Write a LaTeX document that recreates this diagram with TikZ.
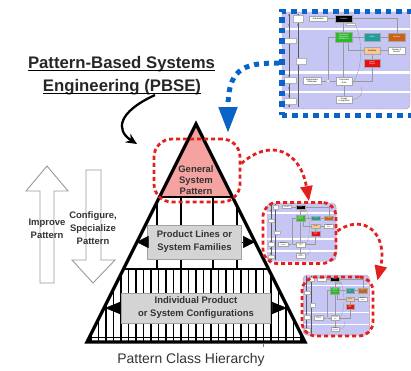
\documentclass[tikz,border=0pt]{standalone}
\usepackage{fontspec}
\setmainfont{Liberation Sans}
\usetikzlibrary{arrows.meta}
\definecolor{lav}{HTML}{C6C6F4}
\definecolor{pbred}{HTML}{E3201E}
\definecolor{pbblue}{HTML}{0A64C8}
\definecolor{apexpink}{HTML}{F4A3A0}
\definecolor{boxfill}{HTML}{D4D4D4}
\definecolor{boxedge}{HTML}{A0A0A0}
\definecolor{txtgray}{HTML}{333333}
\definecolor{mgreen}{HTML}{2DB82D}
\definecolor{mteal}{HTML}{1E9E9E}
\definecolor{morange}{HTML}{C86414}
\definecolor{mpeach}{HTML}{F8C890}
\definecolor{mred}{HTML}{E81010}
\tikzset{
  mbox/.style={draw=gray!70, line width=0.3bp, inner sep=0pt, anchor=north west,
    font=\fontsize{2.1}{2.3}\selectfont, align=center},
  cline/.style={draw=gray!80, line width=0.35bp},
  mline/.style={draw=black!65, line width=0.4bp},
  mini/.pic={
    \fill[lav, rounded corners=4bp] (0,0) rectangle (128,97);
    \fill[white] (0,15.5) rectangle (128,17.5);
    \fill[white] (0,59) rectangle (128,61.5);
    \fill[white] (0,78.5) rectangle (128,81);
    \draw[pbred!70, line width=0.4bp, dash pattern=on 1bp off 0.7bp, rounded corners=4bp] (0,0) rectangle (128,97);
    \draw[mline] (7,2) -- (7,95);
    \draw[mline] (16,2) -- (16,95);
    \draw[mline, <->, >={Stealth[length=1.5bp,width=1.5bp]}] (7,2) -- (7,14);
    \draw[mline, <->, >={Stealth[length=1.5bp,width=1.5bp]}] (7,63) -- (7,77);
    \draw[mline, <->, >={Stealth[length=1.5bp,width=1.5bp]}] (7,83) -- (7,95);
    \draw[mline, <->, >={Stealth[length=1.5bp,width=1.5bp]}] (16,2) -- (16,14);
    \draw[cline] (45,6.5) -- (53,6.5);
    \draw[cline] (70,6.5) -- (115,6.5) -- (115,21);
    \draw[cline] (61.5,10) -- (61.5,20);
    \draw[cline] (70,25) -- (82,25);
    \draw[cline] (98,25) -- (106,25);
    \draw[cline] (66,30) -- (66,38.5) -- (82,38.5);
    \draw[cline] (98,38.5) -- (106,38.5);
    \draw[cline] (90,42) -- (90,47);
    \draw[cline] (53,25) -- (46,25) -- (46,67.5);
    \draw[cline] (39,69) -- (44.5,69);
    \draw[cline] (47.5,69) -- (54,69);
    \draw[cline] (70,69) -- (90,69) -- (90,55);
    \draw[cline] (61.5,30) -- (61.5,65);
    \draw[cline] (62,73) -- (62,84);
    \draw[cline] (73,12) .. controls (82,30) and (80,60) .. (70,72);
    \draw[cline] (70,88) .. controls (78,86) and (82,82) .. (79,75);
    \fill[white, draw=gray!70, line width=0.3bp] (46,69) circle (1.5);
    \fill[white, draw=gray!60, line width=0.2bp] (11,3) rectangle (21,10);
    \fill[white, draw=gray!60, line width=0.2bp] (2,26) rectangle (14,31);
    \fill[white, draw=gray!60, line width=0.2bp] (14,46) rectangle (24,52);
    \fill[white, draw=gray!60, line width=0.2bp] (2,65) rectangle (14,71);
    \fill[white, draw=gray!60, line width=0.2bp] (2,86) rectangle (14,92);
    \fill[white, draw=gray!60, line width=0.2bp] (64,11) rectangle (73,13.5);
    \node[mbox, fill=white, minimum width=18bp, minimum height=5bp] (-stk) at (27,4) {Stakeholder};
    \node[mbox, fill=black, text=white, minimum width=17bp, minimum height=7bp] (-fea) at (53,3) {Feature};
    \node[mbox, fill=mgreen, text=white, minimum width=17bp, minimum height=10bp] (-fib) at (53,20) {Functional\\Interaction\\(Behavior)};
    \node[mbox, fill=mteal, text=white, minimum width=16bp, minimum height=8bp] (-sta) at (82,21) {State};
    \node[mbox, fill=morange, text=white, minimum width=17bp, minimum height=8bp] (-sys) at (106,21) {System};
    \node[mbox, fill=mpeach, minimum width=16bp, minimum height=7bp] (-int) at (82,35) {Interface};
    \node[mbox, fill=white, minimum width=17bp, minimum height=7bp] (-soa) at (106,35) {System of\\Access};
    \node[mbox, fill=mred, text=white, minimum width=16bp, minimum height=8bp] (-io) at (82,47) {Input/\\Output};
    \node[mbox, fill=white, minimum width=18bp, minimum height=7bp] (-req) at (21,65) {Requirement\\Statement};
    \node[mbox, fill=white, minimum width=16bp, minimum height=8bp] (-fro) at (54,65) {Functional\\Role};
    \node[mbox, fill=white, minimum width=16bp, minimum height=7bp] (-dco) at (54,84) {Design\\Component};
  }
}
\begin{document}
\begin{tikzpicture}[x=1bp, y=-1bp,
  txt/.style={text=txtgray, font=\fontsize{9.5}{13}\selectfont\bfseries, align=center, inner sep=0pt},
  ttl/.style={text=black!85, font=\fontsize{16.8}{20}\selectfont\bfseries, inner sep=0pt, anchor=base},
  graybox/.style={draw=boxedge, fill=boxfill, line width=1bp, inner sep=0pt, text=txtgray,
    font=\fontsize{9.5}{13}\selectfont\bfseries, align=center},
  reddash/.style={draw=pbred, line width=2.8bp, dash pattern=on 4bp off 3bp, rounded corners=14bp, inner sep=0pt},
  redarrow/.style={draw=pbred, line width=2.8bp, dash pattern=on 4bp off 3bp, -{Triangle[length=15bp,width=12bp]}},
  bluedash/.style={draw=pbblue, line width=5.5bp, dash pattern=on 5.5bp off 5bp, inner sep=0pt},
  hollow/.style={draw=gray!80, fill=white, line width=0.9bp},
  sidetip/.style={line width=0.5bp, -{Triangle[length=12bp,width=12bp]}},
]
\useasboundingbox (0,0) rectangle (411,371);

% ---- title ----
\node[ttl] (t1) at (121.5,68) {Pattern-Based Systems};
\node[ttl] (t2) at (122,91) {Engineering (PBSE)};
\draw[line width=1.2bp] ([yshift=-2.5bp]t1.base west) -- ([yshift=-2.5bp]t1.base east);
\draw[line width=1.2bp] ([yshift=-2.5bp]t2.base west) -- ([yshift=-2.5bp]t2.base east);

% ---- hollow arrows ----
\draw[hollow] (40,283) -- (54,283) -- (54,191) -- (68,191) -- (47,166) -- (26,191) -- (40,191) -- cycle;
\draw[hollow] (86,170) -- (101,170) -- (101,260) -- (115,260) -- (93,283) -- (72,260) -- (86,260) -- cycle;
\node[txt] (imp) at (47,228.5) {Improve\\Pattern};
\node[txt] (cfg) at (93,228.5) {Configure,\\Specialize\\Pattern};

% ---- pyramid ----
\coordinate (apex) at (196,124);
\coordinate (bl) at (87,342);
\coordinate (br) at (305,342);
\fill[apexpink] (apex) -- (159.5,197) -- (232.5,197) -- cycle;
\begin{scope}
  \clip (apex) -- (bl) -- (br) -- cycle;
  \foreach \x in {157,181,213,237} \draw[line width=1.6bp] (\x,197) -- (\x,269);
  \foreach \k in {-14,...,14} \draw[line width=1.3bp] ({196+7.5*\k},269) -- ({196+7.5*\k},342);
  \draw[line width=1.6bp] (80,197) -- (312,197);
  \draw[line width=1.8bp] (80,269) -- (312,269);
  \draw[line width=1bp] (80,337) -- (312,337);
\end{scope}
\draw[line width=3.3bp, line join=miter] (apex) -- (bl) -- (br) -- cycle;
\draw[gray, line width=0.8bp] (263,343.5) -- (263,347);

\node[txt, font=\fontsize{9.5}{11}\selectfont\bfseries] (gen) at (196,180) {General\\System\\Pattern};

\node[graybox, minimum width=93bp, minimum height=34bp] (plf) at (194.5,242) {Product Lines or\\System Families};
\coordinate (plfL) at (136.5,242);
\coordinate (plfR) at (255,242);
\draw[sidetip] (plf.west) -- (plfL);
\draw[sidetip] (plf.east) -- (plfR);

\node[graybox, minimum width=148bp, minimum height=30bp] (ipc) at (196,308) {Individual Product\\or System Configurations};
\coordinate (ipcL) at (105,308);
\coordinate (ipcR) at (287,308);
\draw[sidetip, -{Triangle[length=15bp,width=12bp]}] (ipc.west) -- (ipcL);
\draw[sidetip, -{Triangle[length=15bp,width=12bp]}] (ipc.east) -- (ipcR);

\node[text=txtgray, font=\fontsize{14}{16}\selectfont, inner sep=0pt] (pch) at (191,360) {Pattern Class Hierarchy};

% ---- mini diagrams ----
\pic (m0) at (282,12) {mini};
\node[bluedash, minimum width=134bp, minimum height=104bp, anchor=north west] (bigframe) at (279,8.5) {};
\begin{scope}[cline/.style={draw=gray!80, line width=0.25bp}, mline/.style={draw=black!65, line width=0.3bp}]
\pic[xscale=0.54, yscale=0.6, transform shape] (m1) at (267,203) {mini};
\pic[xscale=0.52, yscale=0.62, transform shape] (m2) at (303,275) {mini};
\end{scope}

% ---- red dashed regions ----
\node[reddash, minimum width=86bp, minimum height=63bp, rounded corners=18bp] (gsp) at (197,170.5) {};
\node[reddash, minimum width=73bp, minimum height=61bp] (s1) at (299.5,233) {};
\node[reddash, minimum width=71bp, minimum height=59bp] (s2) at (337.5,306.5) {};

% ---- arrows ----
\coordinate (bs) at (155,95);
\coordinate (be) at (137,144);
\draw[line width=2.3bp, -{Stealth[length=11bp,width=10bp]}] (bs) .. controls (118,112) and (115,130) .. (be);

\coordinate (bluetip) at (228,133);
\draw[pbblue, line width=5bp, dash pattern=on 5bp off 5bp, -{Triangle[length=26bp,width=18bp]}]
  (bigframe.west) .. controls (240,62) and (228,72) .. (bluetip);

\draw[redarrow] ([yshift=7bp]gsp.east) .. controls (270,138) and (300,150) .. ([xshift=9.5bp]s1.north);
\draw[redarrow] ([yshift=2bp]s1.east) .. controls (365,212) and (388,235) .. ([xshift=3bp,yshift=-5bp]s2.north east);
\end{tikzpicture}
\end{document}
